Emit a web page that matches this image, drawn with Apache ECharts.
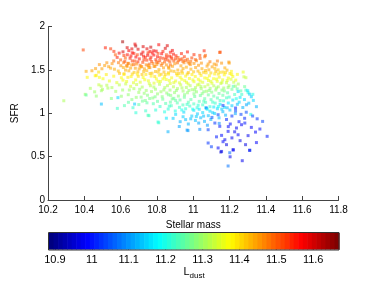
<!DOCTYPE html>
<html><head><meta charset="utf-8">
<script src="https://cdn.jsdelivr.net/npm/echarts@6/dist/echarts.min.js"></script>
<style>html,body{margin:0;padding:0;background:#fff}#c{width:374px;height:281px}</style>
</head><body><div id="c"></div>
<script>
// [stellar mass, SFR, L_dust]
const redGalaxies = [[10.394,1.73,11.52],[10.516,1.755,11.55],[10.545,1.743,11.53],[10.611,1.824,11.64],[10.679,1.797,11.58],[10.563,1.713,11.54],[10.571,1.674,11.5],[10.618,1.666,11.53],[10.637,1.674,11.56],[10.626,1.636,11.5],[10.673,1.69,11.55],[10.692,1.674,11.52],[10.723,1.705,11.57],[10.751,1.697,11.54],[10.762,1.713,11.56],[10.782,1.72,11.58],[10.806,1.69,11.53],[10.833,1.713,11.55],[10.852,1.674,11.52],[10.869,1.659,11.54],[10.891,1.682,11.56],[10.81,1.79,11.57],[10.916,1.643,11.5],[10.938,1.628,11.51],[11.06,1.72,11.55],[11.148,1.705,11.53],[11.036,1.667,11.52],[11.067,1.667,11.5],[10.971,1.59,11.48],[10.986,1.598,11.49],
[10.60,1.615,11.5],[10.623,1.598,11.52],[10.641,1.572,11.49],[10.652,1.634,11.55],[10.664,1.603,11.53],[10.672,1.561,11.5],[10.684,1.648,11.57],[10.695,1.592,11.54],[10.703,1.627,11.56],[10.707,1.552,11.49],[10.714,1.682,11.6],[10.722,1.587,11.52],[10.736,1.645,11.55],[10.744,1.612,11.53],[10.749,1.668,11.58],[10.758,1.566,11.5],[10.763,1.624,11.55],[10.771,1.596,11.52],[10.783,1.671,11.57],[10.789,1.541,11.48],[10.794,1.618,11.54],[10.803,1.652,11.56],[10.806,1.583,11.5],[10.815,1.607,11.52],[10.826,1.686,11.57],[10.834,1.634,11.53],[10.842,1.591,11.5],[10.853,1.647,11.55],[10.861,1.612,11.52],[10.874,1.556,11.49],[10.882,1.628,11.53],[10.893,1.603,11.51],[10.905,1.663,11.55],[10.913,1.581,11.49],[10.927,1.617,11.52],[10.943,1.598,11.5],[10.951,1.652,11.53],[10.968,1.622,11.5],[10.992,1.638,11.52],[10.581,1.644,11.55],[10.592,1.693,11.58],[10.613,1.708,11.6],[10.645,1.722,11.58],[10.664,1.697,11.57],[10.696,1.738,11.6],[10.745,1.743,11.59],[10.796,1.716,11.58],[10.846,1.748,11.6],[10.874,1.703,11.56],[10.935,1.688,11.55],[10.968,1.707,11.56],[11.004,1.676,11.54],[10.562,1.603,11.49],[10.633,1.547,11.48],[10.716,1.538,11.48],[10.761,1.526,11.47],[10.824,1.552,11.48],[10.864,1.531,11.47],[10.657,1.661,11.56],[10.726,1.658,11.56],[10.774,1.694,11.57],[10.885,1.724,11.58],[10.683,1.775,11.62],[10.724,1.768,11.6],[10.636,1.756,11.6],[10.766,1.762,11.61],[10.857,1.779,11.6],[10.662,1.742,11.59]];
const orangeGalaxies = [[10.41,1.483,11.44],[10.442,1.49,11.45],[10.524,1.582,11.46],[10.512,1.55,11.45],[10.545,1.52,11.44],[10.497,1.513,11.45],[10.594,1.46,11.43],[11.018,1.605,11.47],[11.045,1.578,11.46],[11.082,1.567,11.45],[11.115,1.567,11.45],[11.156,1.578,11.46],[11.196,1.59,11.46],[11.198,1.578,11.45],[11.146,1.70,11.5],[11.063,1.651,11.49],[11.137,1.50,11.42],[11.164,1.475,11.41],[11.119,1.517,11.43],
[10.553,1.572,11.46],[10.566,1.508,11.44],[10.587,1.487,11.43],[10.601,1.548,11.46],[10.615,1.527,11.44],[10.619,1.455,11.42],[10.636,1.541,11.45],[10.645,1.489,11.44],[10.661,1.558,11.46],[10.674,1.471,11.42],[10.681,1.519,11.45],[10.695,1.478,11.43],[10.712,1.534,11.44],[10.718,1.447,11.42],[10.731,1.512,11.45],[10.744,1.491,11.43],[10.755,1.528,11.44],[10.773,1.462,11.42],[10.784,1.539,11.45],[10.792,1.481,11.43],[10.799,1.562,11.46],[10.811,1.503,11.44],[10.823,1.449,11.42],[10.836,1.524,11.45],[10.839,1.476,11.43],[10.852,1.557,11.46],[10.863,1.466,11.42],[10.866,1.518,11.44],[10.886,1.541,11.45],[10.894,1.483,11.43],[10.898,1.571,11.46],[10.915,1.498,11.44],[10.922,1.459,11.42],[10.932,1.547,11.45],[10.944,1.515,11.44],[10.949,1.582,11.47],[10.962,1.531,11.44],[10.973,1.469,11.43],[10.984,1.561,11.46],[10.987,1.508,11.44],[11.004,1.574,11.46],[11.013,1.527,11.45],[11.026,1.486,11.43],[11.029,1.553,11.46],[11.048,1.514,11.44],[11.057,1.472,11.42],[11.076,1.543,11.45],[11.086,1.501,11.44],[11.104,1.535,11.45],[11.124,1.482,11.43],[11.127,1.558,11.46],[11.174,1.523,11.44],[11.186,1.497,11.43],[10.752,1.549,11.46],[10.687,1.568,11.47],[10.642,1.576,11.47],[10.588,1.583,11.48],[10.534,1.537,11.45],[10.483,1.561,11.46],[10.462,1.515,11.45]];
const yellowGalaxies = [[10.479,1.475,11.4],[10.46,1.432,11.38],[10.483,1.414,11.37],[10.416,1.414,11.38],[10.466,1.437,11.39],[10.64,1.414,11.39],[10.655,1.31,11.34],[11.21,1.483,11.38],[11.275,1.475,11.36],
[10.503,1.398,11.37],[10.521,1.446,11.39],[10.538,1.372,11.36],[10.562,1.427,11.38],[10.579,1.353,11.35],[10.604,1.409,11.37],[10.618,1.448,11.39],[10.633,1.366,11.36],[10.658,1.423,11.38],[10.683,1.384,11.37],[10.692,1.452,11.39],[10.708,1.358,11.35],[10.724,1.412,11.37],[10.739,1.447,11.39],[10.753,1.374,11.36],[10.768,1.428,11.38],[10.784,1.347,11.35],[10.797,1.396,11.37],[10.813,1.438,11.39],[10.819,1.366,11.36],[10.842,1.419,11.38],[10.851,1.389,11.37],[10.864,1.451,11.39],[10.873,1.343,11.35],[10.881,1.408,11.37],[10.903,1.372,11.36],[10.912,1.437,11.39],[10.924,1.351,11.35],[10.928,1.415,11.37],[10.941,1.462,11.4],[10.953,1.376,11.36],[10.958,1.428,11.38],[10.972,1.338,11.35],[10.979,1.401,11.37],[10.993,1.446,11.39],[11.004,1.364,11.36],[11.011,1.424,11.38],[11.023,1.326,11.34],[11.028,1.392,11.37],[11.043,1.436,11.39],[11.052,1.357,11.35],[11.063,1.407,11.37],[11.071,1.466,11.4],[11.084,1.377,11.36],[11.089,1.432,11.38],[11.103,1.346,11.35],[11.112,1.398,11.37],[11.118,1.453,11.39],[11.132,1.368,11.36],[11.143,1.416,11.38],[11.148,1.472,11.4],[11.162,1.385,11.36],[11.171,1.443,11.38],[11.193,1.406,11.37],[11.202,1.458,11.39],[11.218,1.424,11.37],[11.243,1.448,11.38],[11.234,1.382,11.36]];
const yellowGreenGalaxies = [[10.494,1.26,11.3],[10.53,1.29,11.31],[10.70,1.24,11.3],[10.73,1.23,11.29],[10.77,1.25,11.3],[10.876,1.206,11.28],[10.405,1.218,11.3],[10.466,1.198,11.29],[10.549,1.17,11.28],[10.686,1.183,11.29],[10.48,1.328,11.33],[10.50,1.275,11.31],[10.287,1.144,11.31],[11.279,1.42,11.33],[11.29,1.41,11.33],
[10.493,1.312,11.32],[10.524,1.323,11.32],[10.552,1.296,11.31],[10.593,1.327,11.32],[10.611,1.268,11.3],[10.628,1.338,11.33],[10.642,1.214,11.29],[10.673,1.284,11.31],[10.688,1.331,11.33],[10.713,1.186,11.28],[10.719,1.302,11.31],[10.741,1.263,11.3],[10.748,1.208,11.28],[10.764,1.317,11.32],[10.777,1.176,11.28],[10.792,1.277,11.3],[10.803,1.223,11.29],[10.814,1.334,11.32],[10.822,1.248,11.3],[10.829,1.191,11.28],[10.843,1.296,11.31],[10.854,1.233,11.29],[10.858,1.318,11.32],[10.872,1.267,11.3],[10.884,1.165,11.27],[10.891,1.305,11.32],[10.897,1.238,11.29],[10.913,1.284,11.31],[10.918,1.198,11.28],[10.931,1.327,11.33],[10.944,1.256,11.3],[10.952,1.214,11.28],[10.962,1.297,11.31],[10.968,1.236,11.29],[10.983,1.318,11.32],[10.994,1.272,11.3],[11.004,1.224,11.28],[11.012,1.296,11.31],[11.018,1.247,11.29],[11.032,1.334,11.33],[11.044,1.283,11.3],[11.049,1.226,11.28],[11.064,1.306,11.32],[11.073,1.254,11.3],[11.081,1.328,11.33],[11.093,1.287,11.3],[11.102,1.243,11.28],[11.113,1.316,11.32],[11.124,1.268,11.29],[11.138,1.305,11.31],[11.152,1.343,11.33],[11.168,1.291,11.3],[11.183,1.352,11.33],[11.197,1.317,11.31],[11.223,1.358,11.33],[11.248,1.337,11.31],[10.573,1.252,11.3],[10.457,1.247,11.3],[10.433,1.287,11.31],[10.604,1.196,11.29],[10.662,1.158,11.28],[10.736,1.147,11.27]];
const greenGalaxies = [[10.582,1.056,11.22],[10.41,1.21,11.25],[10.756,0.972,11.23],[10.81,0.89,11.22],[10.751,0.977,11.23],[10.806,0.899,11.21],[11.22,1.31,11.24],[11.29,1.267,11.22],[10.70,1.10,11.25],[10.72,1.14,11.26],[10.745,1.12,11.25],[10.76,1.17,11.27],[10.78,1.11,11.24],[10.79,1.19,11.27],[11.317,0.987,11.2],
[10.803,1.137,11.25],[10.817,1.078,11.22],[10.832,1.162,11.26],[10.848,1.113,11.24],[10.862,1.048,11.21],[10.874,1.128,11.25],[10.879,1.087,11.23],[10.893,1.172,11.26],[10.901,1.026,11.2],[10.912,1.119,11.24],[10.924,1.068,11.22],[10.927,1.153,11.25],[10.943,1.096,11.23],[10.951,1.184,11.26],[10.958,1.052,11.21],[10.973,1.127,11.24],[10.981,1.083,11.22],[10.987,1.158,11.25],[11.003,1.108,11.23],[11.008,1.193,11.26],[11.021,1.063,11.21],[11.033,1.137,11.24],[11.039,1.204,11.26],[11.052,1.097,11.22],[11.063,1.168,11.25],[11.068,1.126,11.23],[11.083,1.212,11.26],[11.092,1.076,11.21],[11.098,1.157,11.24],[11.113,1.198,11.25],[11.121,1.117,11.22],[11.133,1.176,11.24],[11.142,1.228,11.26],[11.148,1.147,11.23],[11.163,1.207,11.25],[11.171,1.257,11.27],[11.183,1.178,11.23],[11.189,1.236,11.25],[11.213,1.276,11.26],[11.228,1.216,11.23],[11.242,1.281,11.25],[11.262,1.258,11.24],[11.283,1.307,11.26],[11.302,1.237,11.21],[11.328,1.218,11.2],[10.643,1.126,11.25],[10.668,1.064,11.22],[10.621,1.088,11.24],[10.842,1.016,11.2],[10.793,1.037,11.21],[10.738,1.028,11.22],[10.684,1.006,11.21]];
const cyanGalaxies = [[10.494,1.106,11.13],[10.585,1.18,11.15],[10.677,1.106,11.14],[10.861,0.787,11.12],[10.966,0.806,11.1],[11.036,0.814,11.09],[10.889,0.941,11.14],[10.944,0.96,11.14],[10.971,0.80,11.1],[11.03,0.887,11.11],[10.986,0.936,11.13],[11.247,1.25,11.15],[11.30,1.26,11.16],[11.31,1.22,11.14],[11.32,1.19,11.14],[11.192,0.392,11.07],[11.201,0.545,11.06],[11.312,0.573,11.04],
[10.903,0.987,11.15],[10.928,0.903,11.12],[10.948,1.013,11.15],[10.973,0.876,11.12],[10.992,0.968,11.14],[11.003,1.034,11.16],[11.012,0.917,11.13],[11.023,0.993,11.14],[11.033,1.046,11.16],[11.041,0.948,11.13],[11.052,1.008,11.15],[11.062,0.906,11.12],[11.068,1.063,11.16],[11.083,0.972,11.13],[11.092,1.024,11.15],[11.097,0.928,11.12],[11.113,1.072,11.16],[11.118,0.997,11.14],[11.133,1.052,11.15],[11.142,0.947,11.12],[11.148,1.104,11.16],[11.163,1.018,11.13],[11.172,1.068,11.15],[11.178,0.978,11.12],[11.193,1.118,11.16],[11.202,1.037,11.13],[11.213,1.087,11.14],[11.218,1.152,11.16],[11.232,0.996,11.11],[11.253,1.128,11.15],[11.258,1.183,11.16],[11.273,1.066,11.12],[11.282,1.158,11.15],[11.306,1.116,11.13],[11.331,1.148,11.15],[11.348,1.076,11.12],[10.852,0.943,11.16],[10.923,0.847,11.11],[11.078,0.862,11.1],[11.143,0.883,11.09]];
const blueGalaxies = [[11.164,1.09,11.02],[11.233,1.06,11.0],[11.137,0.983,11.03],[11.073,1.06,11.05],[11.119,0.887,11.02],[11.082,0.81,11.03],[11.146,0.849,11.0],[11.192,0.791,10.98],[11.156,0.745,10.99],[11.174,0.695,10.97],[11.082,0.657,11.02],[11.137,0.60,10.98],[11.22,0.58,10.96],[11.156,0.56,10.97],[11.266,0.868,10.98],[11.284,0.887,11.0],[11.238,0.83,10.97],[11.247,0.752,10.98],[11.407,0.734,11.0],[11.367,0.818,10.99],[11.32,0.837,10.98],[11.31,0.573,10.97],[11.27,0.453,10.97],[11.152,0.553,10.95],[11.22,0.576,10.98],[11.10,0.614,11.03],[11.164,0.672,10.99],
[11.183,0.928,11.01],[11.204,0.876,10.99],[11.213,0.968,11.02],[11.252,0.903,10.99],[11.263,0.987,11.03],[11.283,0.942,11.01],[11.292,1.012,11.04],[11.327,0.968,11.03],[11.352,0.936,11.02],[11.382,0.906,11.03],[11.193,0.846,10.98],[11.228,0.786,10.97],[11.302,0.742,10.97],[11.343,0.783,10.98],[11.258,0.684,10.96],[11.213,0.716,10.97],[11.128,0.728,11.0],[11.103,0.952,11.04],[11.348,0.662,10.98],[11.288,0.638,10.96],[11.183,0.638,10.96],[11.233,1.028,11.04],[11.203,0.498,10.97]];
const coreGalaxies = [[10.617,1.583,11.49],[10.655,1.521,11.45],[10.678,1.602,11.52],[10.702,1.512,11.45],[10.728,1.617,11.53],[10.741,1.558,11.47],[10.767,1.647,11.55],[10.778,1.573,11.48],[10.797,1.592,11.5],[10.818,1.641,11.54],[10.829,1.573,11.48],[10.847,1.622,11.52],[10.871,1.592,11.5],[10.879,1.648,11.54],[10.902,1.628,11.52],[10.918,1.606,11.5],[10.956,1.609,11.5],[10.978,1.572,11.47],[11.012,1.618,11.5],[11.038,1.632,11.51],[11.092,1.594,11.48],[11.133,1.602,11.48],
[10.627,1.497,11.44],[10.664,1.452,11.41],[10.697,1.426,11.4],[10.727,1.481,11.43],[10.762,1.458,11.42],[10.788,1.423,11.4],[10.807,1.474,11.42],[10.846,1.446,11.41],[10.877,1.488,11.43],[10.908,1.457,11.41],[10.937,1.486,11.43],[10.967,1.452,11.41],[11.002,1.478,11.42],[11.036,1.461,11.41],[11.068,1.493,11.43],[11.097,1.465,11.41],[11.138,1.452,11.4],[11.178,1.468,11.4],[11.212,1.447,11.38],
[10.613,1.382,11.37],[10.671,1.352,11.35],[10.733,1.386,11.37],[10.758,1.341,11.34],[10.806,1.368,11.36],[10.833,1.396,11.37],[10.868,1.378,11.36],[10.893,1.353,11.35],[10.937,1.392,11.37],[10.963,1.357,11.35],[10.998,1.384,11.36],[11.038,1.372,11.36],[11.077,1.402,11.37],[11.097,1.368,11.35],[11.128,1.393,11.36],[11.158,1.356,11.34],[11.187,1.377,11.35],[11.208,1.392,11.35],
[10.648,1.268,11.3],[10.705,1.276,11.3],[10.783,1.302,11.31],[10.838,1.268,11.3],[10.863,1.213,11.27],[10.907,1.262,11.29],[10.938,1.292,11.31],[10.976,1.263,11.29],[11.008,1.268,11.29],[11.042,1.307,11.31],[11.058,1.248,11.28],[11.088,1.262,11.28],[11.128,1.292,11.3],[11.158,1.267,11.28],[11.192,1.296,11.29],[11.232,1.312,11.29],
[10.868,1.082,11.22],[10.903,1.148,11.25],[10.937,1.038,11.19],[10.966,1.102,11.22],[10.997,1.047,11.19],[11.027,1.093,11.21],[11.058,1.138,11.23],[11.077,1.046,11.18],[11.107,1.128,11.22],[11.138,1.077,11.19],[11.167,1.143,11.21],[11.198,1.186,11.22],[11.237,1.168,11.2],[11.267,1.217,11.22],
[10.958,0.927,11.13],[11.017,0.962,11.14],[11.057,0.967,11.13],[11.107,1.007,11.14],[11.157,1.048,11.14],[11.187,1.063,11.13],[11.243,1.103,11.13],[11.293,1.098,11.11]];

const massTicks = [10.2, 11.8, 0.2];
const sfrTicks = [0, 2, 0.5];
const lDustRange = [10.884, 11.67];
const lDustTicks = [10.9, 11, 11.1, 11.2, 11.3, 11.4, 11.5, 11.6];

const galaxies = [].concat(redGalaxies, orangeGalaxies, yellowGalaxies, yellowGreenGalaxies, greenGalaxies, cyanGalaxies, blueGalaxies, coreGalaxies);

// jet colormap (64 levels)
const NLEV = 64;
function jet(t){
  const c = v => Math.round(255*Math.max(0, Math.min(1, v)));
  return 'rgb(' + c(1.5-Math.abs(4*t-3)) + ',' + c(1.5-Math.abs(4*t-2)) + ',' + c(1.5-Math.abs(4*t-1)) + ')';
}
const jetColors = [];
for (let i = 0; i < NLEV; i++) jetColors.push(jet(i/(NLEV-1)));
const step = (lDustRange[1]-lDustRange[0])/NLEV;
const colorbarCells = jetColors.map((c, i) => [lDustRange[0]+i*step, lDustRange[0]+(i+1)*step, i]);

const font = 'Liberation Sans, Arial, Helvetica, sans-serif';
const chart = echarts.init(document.getElementById('c'), null, {renderer: 'canvas'});
chart.setOption({
  animation: false,
  backgroundColor: '#fff',
  grid: [
    {left: 48, right: 35.5, top: 26.5, bottom: 81},
    {left: 49, width: 290, top: 233, height: 17}
  ],
  xAxis: [{
    gridIndex: 0, type: 'value', min: massTicks[0], max: massTicks[1], interval: massTicks[2],
    name: 'Stellar mass', nameLocation: 'middle', nameGap: 14,
    nameTextStyle: {color: '#000', fontSize: 10, fontFamily: font},
    axisLine: {show: true, onZero: false, lineStyle: {color: '#444', width: 1}},
    axisTick: {show: true, inside: true, length: 4, lineStyle: {color: '#444'}},
    axisLabel: {color: '#000', fontSize: 10, fontFamily: font, margin: 5},
    splitLine: {show: false}
  }, {
    gridIndex: 1, type: 'value', min: lDustRange[0], max: lDustRange[1],
    name: '{l|L}{s|dust}', nameLocation: 'middle', nameGap: 14,
    nameTextStyle: {rich: {l: {fontSize: 11, fontFamily: font, color: '#000'}, s: {fontSize: 8, fontFamily: font, color: '#000', padding: [8, 0, 0, 0]}}},
    axisLine: {show: false},
    axisTick: {show: true, inside: true, length: 3, customValues: lDustTicks, lineStyle: {color: '#333'}},
    axisLabel: {color: '#000', fontSize: 11, fontFamily: font, margin: 5, customValues: lDustTicks},
    splitLine: {show: false}
  }, {
    gridIndex: 1, type: 'value', position: 'top', min: lDustRange[0], max: lDustRange[1],
    axisLine: {show: false},
    axisTick: {show: true, inside: true, length: 3, customValues: lDustTicks, lineStyle: {color: '#333'}},
    axisLabel: {show: false},
    splitLine: {show: false}
  }],
  yAxis: [{
    gridIndex: 0, type: 'value', min: sfrTicks[0], max: sfrTicks[1], interval: sfrTicks[2],
    name: 'SFR', nameLocation: 'middle', nameGap: 21, nameRotate: 90,
    nameTextStyle: {color: '#000', fontSize: 10, fontFamily: font},
    axisLine: {show: true, onZero: false, lineStyle: {color: '#444', width: 1}},
    axisTick: {show: true, inside: true, length: 4, lineStyle: {color: '#444'}},
    axisLabel: {color: '#000', fontSize: 10, fontFamily: font, margin: 3},
    splitLine: {show: false}
  }, {
    gridIndex: 1, type: 'value', min: 0, max: 1, show: false
  }],
  visualMap: {
    show: false, type: 'continuous', min: lDustRange[0], max: lDustRange[1], dimension: 2, seriesIndex: 0,
    inRange: {color: jetColors}
  },
  graphic: [{
    type: 'rect', z: 100, silent: true,
    shape: {x: 48.5, y: 232.5, width: 290.5, height: 17.5},
    style: {fill: 'none', stroke: '#333', lineWidth: 1}
  }],
  series: [{
    type: 'scatter', xAxisIndex: 0, yAxisIndex: 0,
    symbol: 'rect', symbolSize: 3,
    itemStyle: {opacity: 0.55},
    data: galaxies
  }, {
    type: 'custom', xAxisIndex: 1, yAxisIndex: 1, silent: true,
    data: colorbarCells,
    renderItem: function (params, api) {
      const p0 = api.coord([api.value(0), 1]);
      const p1 = api.coord([api.value(1), 0]);
      return {type: 'rect', shape: {x: p0[0], y: p0[1], width: p1[0]-p0[0]+0.6, height: p1[1]-p0[1]},
        style: {fill: jetColors[api.value(2)]}};
    }
  }]
});
</script>
</body></html>
